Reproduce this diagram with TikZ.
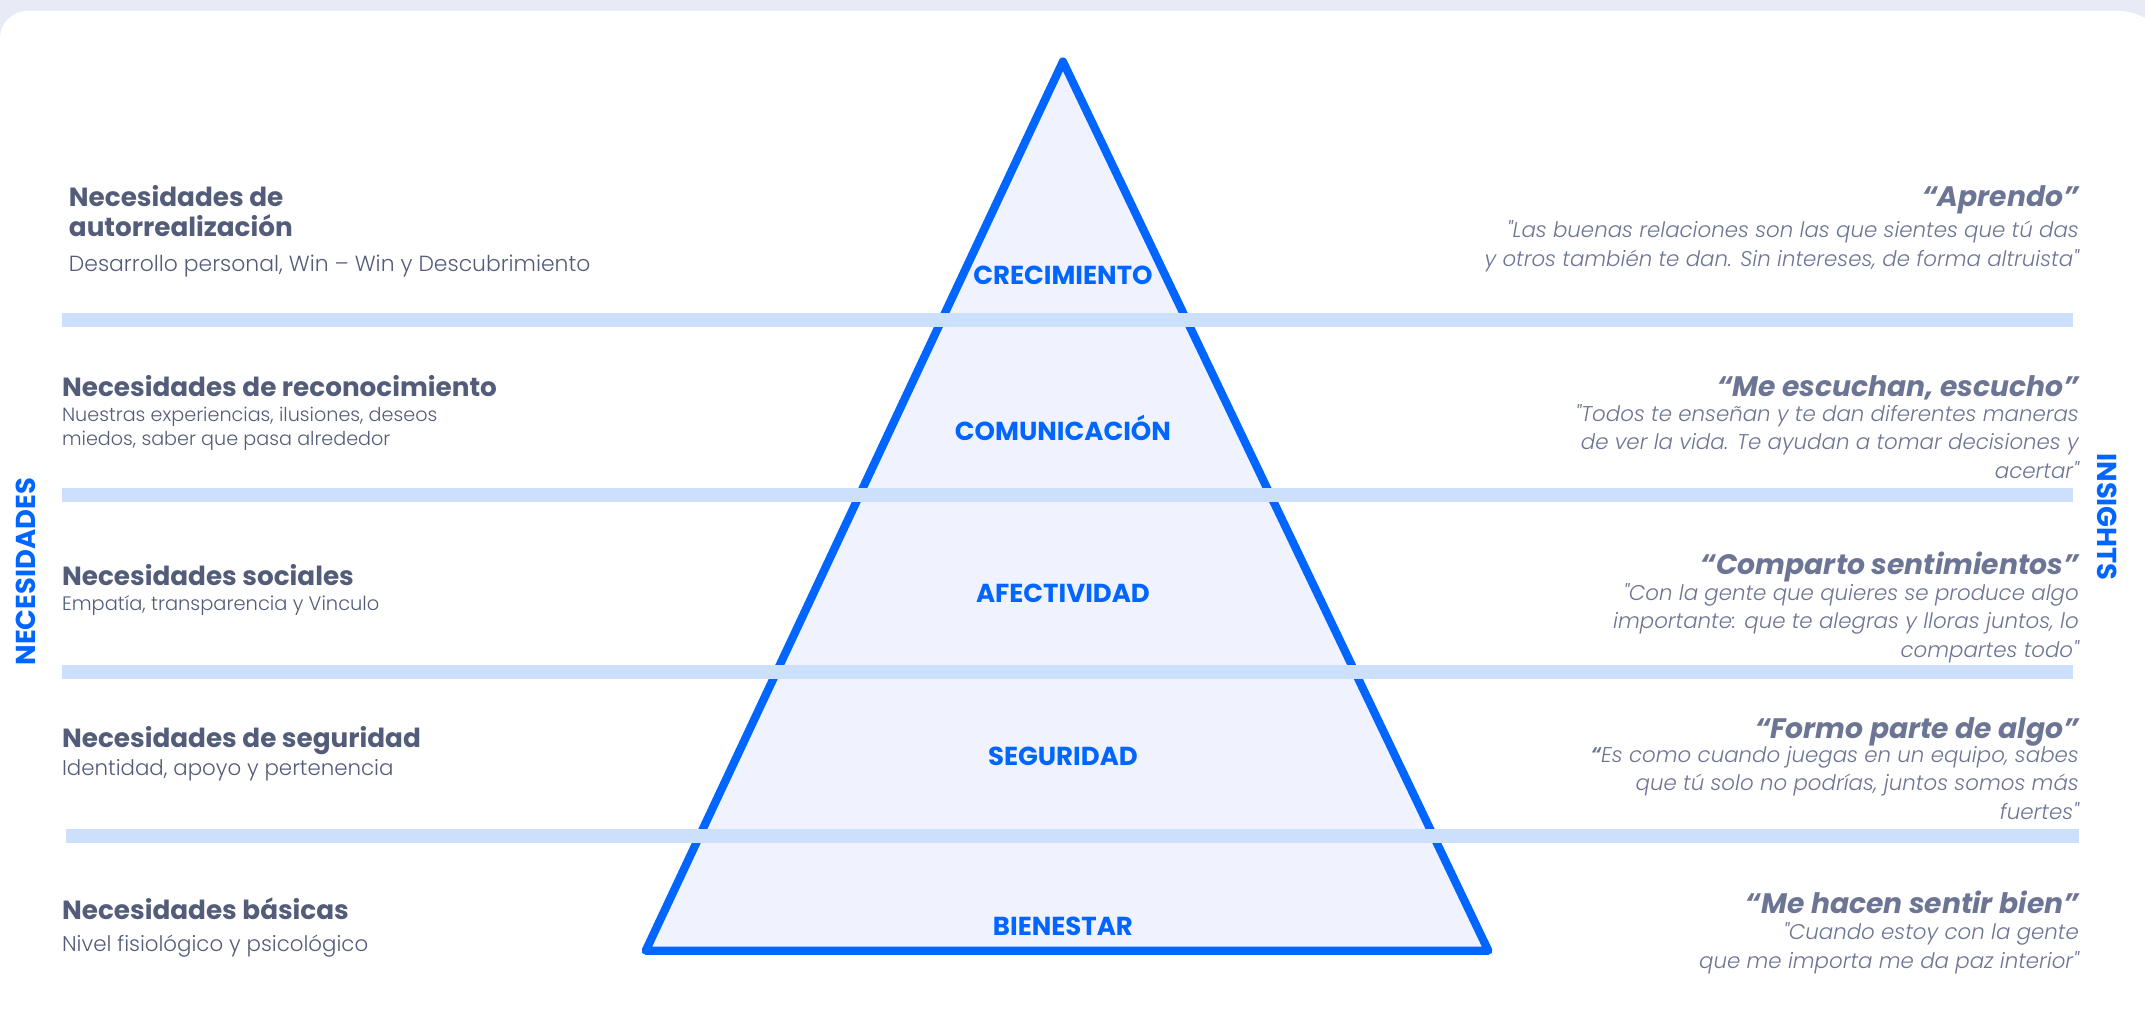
\documentclass[tikz,border=0pt]{standalone}
\usepackage{fontspec}
\setmainfont{Poppins}
\newfontfamily\lightfont{Poppins}[UprightFont=*-Light,ItalicFont=*-LightItalic,BoldFont=*-Bold]
\usepackage{tikz}
\usetikzlibrary{positioning}

\definecolor{pyrblue}{HTML}{0066FF}
\definecolor{bandblue}{HTML}{CCE0FC}
\definecolor{pyrfill}{HTML}{F0F3FD}
\definecolor{pagebg}{HTML}{E8EBF6}
\definecolor{needgray}{HTML}{535D7A}
\definecolor{insgray}{HTML}{6C7594}

\begin{document}
\begin{tikzpicture}[x=0.5pt,y=-0.5pt,node distance=2pt]
    \tikzset{needtitle/.style={font=\fontsize{9.6}{11}\selectfont\bfseries,text=needgray,anchor=north west,align=left,inner sep=0pt},
      needtext/.style={font=\lightfont\fontsize{#1}{9}\selectfont,text=needgray,anchor=north west,align=left,inner sep=0pt},
      needtext/.default=7.3,
      quotetitle/.style={font=\fontsize{10.3}{12}\selectfont\bfseries\itshape,text=insgray,anchor=base east,inner sep=0pt},
      quotetext/.style={font=\lightfont\fontsize{7.8}{10.5}\selectfont\itshape,text=insgray,anchor=north east,align=right,inner sep=0pt},
      level/.style={font=\fontsize{9.5}{11}\selectfont\bfseries,text=pyrblue},
      sidelabel/.style={font=\fontsize{10}{12}\selectfont\bfseries,text=pyrblue},
      band/.style={draw=bandblue,line width=5pt}}
    \useasboundingbox (0,0) rectangle (1568,742);
    % page and card
    \fill[pagebg] (0,0) rectangle (1568,742);
    \fill[white] (0,760) [rounded corners=10pt] -- (0,8) [rounded corners=21pt] -- (1590,8) [sharp corners] -- (1590,760) -- cycle;
    % pyramid
    \coordinate (ptop) at (777,45);
    \coordinate (pbl) at (472,695);
    \coordinate (pbr) at (1088,695);
    \draw[pyrblue,fill=pyrfill,line width=3pt,line join=round] (ptop) -- (pbl) -- (pbr) -- cycle;
    \draw[band] (45,234) -- (1515,234);
    \draw[band] (45,362) -- (1515,362);
    \draw[band] (45,491) -- (1515,491);
    \draw[band] (48,611) -- (1520,611);
    \node[level] (crec) at (777,201) {CRECIMIENTO};
    \node[level] (comu) at (777,313) {COMUNICACIÓN};
    \node[level] (afec) at (777,434) {AFECTIVIDAD};
    \node[level] (segu) at (777,553) {SEGURIDAD};
    \node[level] (bien) at (777,677) {BIENESTAR};
    % needs
    \node[sidelabel,rotate=90] (necesidades) at (19,418) {NECESIDADES};
    \node[needtitle] (n1) at (50,135) {Necesidades de\\autorrealización};
    \node[needtext=8] (d1) at (50,186) {Desarrollo personal, Win – Win y Descubrimiento};
    \node[needtext=7] (d2) at (45,297) {Nuestras experiencias, ilusiones, deseos\\miedos, saber que pasa alrededor};
    \node[needtitle] (n2) at (45,274) {Necesidades de reconocimiento};
    \node[needtitle] (n3) at (45,412) {Necesidades sociales};
    \node[needtext=7.1] (d3) at (45,435) {Empatía, transparencia y Vinculo};
    \node[needtitle] (n4) at (45,531) {Necesidades de seguridad};
    \node[needtext=7.8] (d4) at (45,555) {Identidad, apoyo y pertenencia};
    \node[needtitle] (n5) at (45,656) {Necesidades básicas};
    \node[needtext=7.8] (d5) at (45,683) {Nivel fisiológico y psicológico};
    % insights
    \node[sidelabel,rotate=-90] (insights) at (1540,378) {INSIGHTS};
    \node[quotetitle] (q1) at (1520,151) {“Aprendo”};
    \node[quotetext] (t1) at (1520,161) {"Las buenas relaciones son las que sientes que tú das\\y otros también te dan. Sin intereses, de forma altruista"};
    \node[quotetitle] (q2) at (1520,290) {“Me escuchan, escucho”};
    \node[quotetext] (t2) at (1520,295) {"Todos te enseñan y te dan diferentes maneras\\de ver la vida. Te ayudan a tomar decisiones y\\acertar"};
    \node[quotetitle] (q3) at (1520,420) {“Comparto sentimientos”};
    \node[quotetext] (t3) at (1520,426) {"Con la gente que quieres se produce algo\\importante: que te alegras y lloras juntos, lo\\compartes todo"};
    \node[quotetitle] (q4) at (1520,540) {“Formo parte de algo”};
    \node[quotetext] (t4) at (1520,545) {{\bfseries “}Es como cuando juegas en un equipo, sabes\\que tú solo no podrías,  juntos somos más\\fuertes"};
    \node[quotetitle] (q5) at (1520,668) {“Me hacen sentir bien”};
    \node[quotetext] (t5) at (1520,674) {"Cuando estoy con la gente\\que me importa me da paz interior"};
\end{tikzpicture}
\end{document}
